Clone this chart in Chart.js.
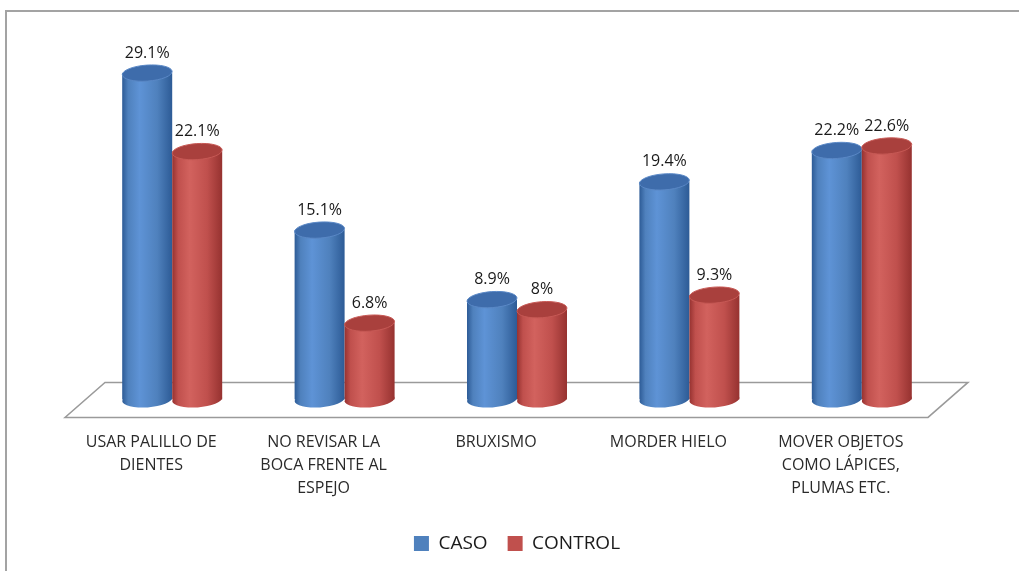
<!DOCTYPE html>
<html>
<head>
<meta charset="utf-8">
<script src="https://cdn.jsdelivr.net/npm/chart.js@4.4.1/dist/chart.umd.min.js"></script>
<style>
  html, body { margin: 0; padding: 0; background: #fff; }
  #wrap { position: relative; width: 1019px; height: 571px; overflow: hidden; }
  #frame { position: absolute; left: 5px; top: 10px; width: 1100px; height: 700px;
           border-top: 2px solid #a3a3a3; border-left: 2px solid #a3a3a3; }
  canvas { position: absolute; left: 0; top: 0; }
</style>
</head>
<body>
<div id="wrap">
  <div id="frame"></div>
  <canvas id="myChart" width="1019" height="571"></canvas>
</div>
<script>
const categories = [
  ['USAR PALILLO DE', 'DIENTES'],
  ['NO REVISAR LA', 'BOCA FRENTE AL', 'ESPEJO'],
  ['BRUXISMO'],
  ['MORDER HIELO'],
  ['MOVER OBJETOS', 'COMO LÁPICES,', 'PLUMAS ETC.']
];
const casoValues = [29.1, 15.1, 8.9, 19.4, 22.2];
const controlValues = [22.1, 6.8, 8, 9.3, 22.6];
const seriesNames = ['CASO', 'CONTROL'];

const FONT = '"Open Sans", sans-serif';

// colores de los cilindros
const shades = [
  { base: '#4f81bd', dark: '#2d5b96', light: '#5e93d6', top: '#3e6cab', rim: '#5a88c6' },
  { base: '#c0504d', dark: '#963230', light: '#d2625e', top: '#a9403d', rim: '#c75955' }
];

const RY = 8;
const TILT = -0.07;

function drawCylinder(ctx, x, top, base, w, s) {
  const rx = w / 2;
  const g = ctx.createLinearGradient(x - rx, 0, x + rx, 0);
  g.addColorStop(0, s.dark);
  g.addColorStop(0.12, s.base);
  g.addColorStop(0.35, s.light);
  g.addColorStop(0.7, s.base);
  g.addColorStop(1, s.dark);

  ctx.save();
  ctx.fillStyle = g;
  // base
  ctx.beginPath();
  ctx.ellipse(x, base, rx, RY, TILT, 0, Math.PI * 2);
  ctx.fill();
  // cuerpo
  ctx.fillRect(x - rx, top, w, base - top);
  // tapa
  ctx.beginPath();
  ctx.ellipse(x, top, rx, RY, TILT, 0, Math.PI * 2);
  ctx.fillStyle = s.top;
  ctx.fill();
  ctx.lineWidth = 1;
  ctx.strokeStyle = s.rim;
  ctx.stroke();
  ctx.restore();
}

const cylinderPlugin = {
  id: 'cylinders',
  beforeDatasetsDraw(chart) {
    // piso
    const ctx = chart.ctx;
    const a = chart.chartArea;
    const y0 = chart.scales.y.getPixelForValue(0);
    ctx.save();
    ctx.strokeStyle = '#9a9a9a';
    ctx.lineWidth = 1.5;
    ctx.beginPath();
    ctx.moveTo(a.left + 19, y0 - 17);
    ctx.lineTo(a.right + 20, y0 - 17);
    ctx.lineTo(a.right - 20, y0 + 18);
    ctx.lineTo(a.left - 21, y0 + 18);
    ctx.closePath();
    ctx.stroke();
    ctx.restore();
  },
  beforeDatasetDraw() {
    return false;
  },
  afterDatasetsDraw(chart) {
    const ctx = chart.ctx;
    const metas = chart.data.datasets.map((d, i) => chart.getDatasetMeta(i));
    for (let j = 0; j < categories.length; j++) {
      metas.forEach((meta, i) => {
        const el = meta.data[j];
        drawCylinder(ctx, el.x, el.y, el.base, el.width, shades[i]);
      });
    }
    // etiquetas de valores
    ctx.save();
    ctx.font = '16px ' + FONT;
    ctx.fillStyle = '#1a1a1a';
    ctx.textAlign = 'center';
    ctx.textBaseline = 'middle';
    metas.forEach((meta, i) => {
      meta.data.forEach((el, j) => {
        const v = chart.data.datasets[i].data[j];
        ctx.fillText(v + '%', el.x, el.y - RY - 12);
      });
    });
    ctx.restore();
  }
};

const ctx = document.getElementById('myChart').getContext('2d');
new Chart(ctx, {
  type: 'bar',
  data: {
    labels: categories,
    datasets: [
      { label: seriesNames[0], data: casoValues, backgroundColor: shades[0].base },
      { label: seriesNames[1], data: controlValues, backgroundColor: shades[1].base }
    ]
  },
  options: {
    responsive: false,
    animation: false,
    layout: { padding: { left: 86, right: 71, top: 63, bottom: 8 } },
    datasets: { bar: { categoryPercentage: 0.58, barPercentage: 1 } },
    plugins: {
      legend: {
        position: 'bottom',
        labels: {
          boxWidth: 15, boxHeight: 15, padding: 20,
          font: { family: FONT, size: 19 }, color: '#1a1a1a'
        }
      },
      tooltip: { enabled: false }
    },
    scales: {
      x: {
        grid: { display: false, drawTicks: false },
        border: { display: false },
        afterFit(scale) { scale.height -= 17; },
        ticks: {
          labelOffset: -21, padding: 31, maxRotation: 0, autoSkip: false,
          font: { family: FONT, size: 16, lineHeight: 1.45 }, color: '#2a2a2a'
        }
      },
      y: { display: false, min: 0, max: 30 }
    }
  },
  plugins: [cylinderPlugin]
});
</script>
</body>
</html>
